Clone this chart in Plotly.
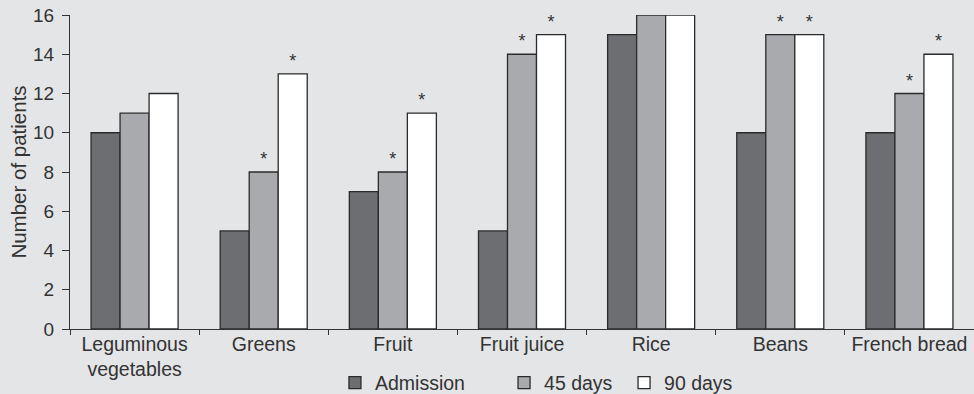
import plotly.graph_objects as go

categories = ["Leguminous<br>vegetables", "Greens", "Fruit", "Fruit juice", "Rice", "Beans", "French bread"]
admission = [10, 5, 7, 5, 15, 10, 10]
days45 = [11, 8, 8, 14, 16, 15, 12]
days90 = [12, 13, 11, 15, 16, 15, 14]
sig45 = ["", "*", "*", "*", "", "*", "*"]
sig90 = ["", "*", "*", "*", "", "*", "*"]
sigadm = ["", "", "", "", "", "", ""]
y_ticks = [0, 2, 4, 6, 8, 10, 12, 14, 16]

series = [
    ("Admission", admission, "#6d6e71", sigadm, "legend"),
    ("45 days", days45, "#a9aaad", sig45, "legend2"),
    ("90 days", days90, "#ffffff", sig90, "legend3"),
]

fig = go.Figure()
for name, vals, col, sig, leg in series:
    fig.add_trace(go.Bar(
        x=categories, y=vals, name=name, legend=leg,
        marker=dict(color=col, line=dict(color="#2b2b2b", width=1.3)),
        text=sig, textposition="outside", cliponaxis=False,
        textfont=dict(size=18, color="#333333"),
    ))

leg_common = dict(orientation="h", xref="container", yref="container", xanchor="left",
                  y=0.028, yanchor="middle",
                  font=dict(size=19.5), itemwidth=30, bgcolor="rgba(0,0,0,0)")

fig.update_layout(
    width=974, height=394,
    paper_bgcolor="#e4e5e7", plot_bgcolor="#e4e5e7",
    font=dict(family="Liberation Sans, Arial, sans-serif", size=20, color="#333333"),
    margin=dict(l=70, r=0, t=15, b=65, autoexpand=False),
    barmode="group", bargap=0.326, bargroupgap=0,
    showlegend=True,
    legend=dict(x=0.3439, **leg_common),
    legend2=dict(x=0.5175, **leg_common),
    legend3=dict(x=0.6407, **leg_common),
)
fig.update_xaxes(
    showline=True, linecolor="#333333", linewidth=1.2, automargin=False,
    ticks="outside", tickson="boundaries", ticklen=5, tickcolor="#333333",
    showgrid=False, range=[-0.5, 6.5], ticklabelstandoff=-3,
    tickfont=dict(size=19.5),
)
fig.update_yaxes(
    range=[0, 16], tickvals=y_ticks, showline=True, linecolor="#333333", linewidth=1.2,
    ticks="outside", ticklen=7, tickcolor="#333333", showgrid=False, zeroline=False,
    ticklabelstandoff=4, tickfont=dict(size=19), automargin=False,
    title=dict(text="Number of patients", standoff=0, font=dict(size=20.5)),
)

fig.write_html("out.html", config={"displayModeBar": False},
               post_script="document.body.style.margin='0';document.body.style.overflow='hidden';")
